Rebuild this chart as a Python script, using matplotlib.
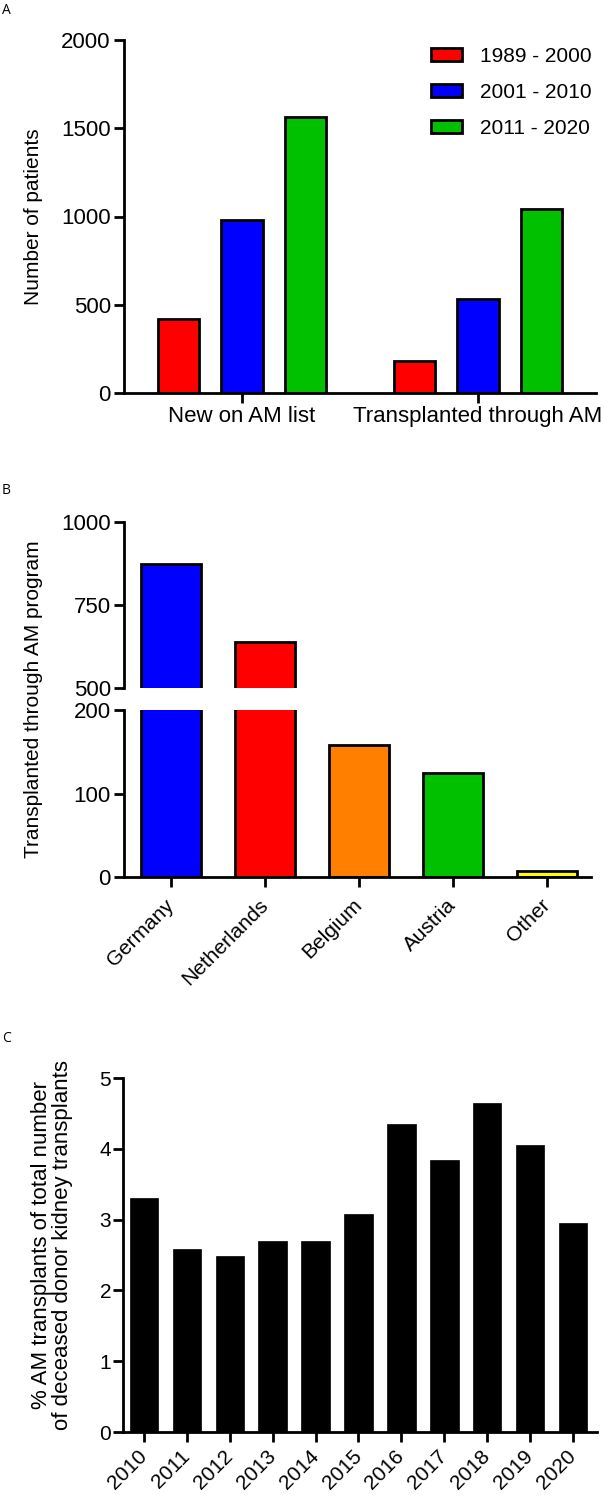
import matplotlib
matplotlib.use("Agg")
import matplotlib.pyplot as plt
from matplotlib.patches import Patch
import numpy as np

# ---- data ----
periods = ["1989 - 2000", "2001 - 2010", "2011 - 2020"]
period_colors = ["#ff0000", "#0000ff", "#00c000"]
groups_a = ["New on AM list", "Transplanted through AM"]
new_on_list = [420, 978, 1563]
transplanted = [180, 530, 1042]

countries = ["Germany", "Netherlands", "Belgium", "Austria", "Other"]
country_counts = [874, 640, 158, 125, 7]
country_colors = ["#0000ff", "#ff0000", "#ff8000", "#00c000", "#ffff00"]

years = ["2010", "2011", "2012", "2013", "2014", "2015",
         "2016", "2017", "2018", "2019", "2020"]
am_pct = [3.30, 2.59, 2.49, 2.70, 2.70, 3.08, 4.35, 3.84, 4.65, 4.05, 2.95]

W, H = 604, 1498
fig = plt.figure(figsize=(W / 100, H / 100), dpi=100)

ARIAL = "Liberation Sans"
OPEN = "Open Sans"
LW = 2.0


def px_axes(left, top, right, bottom):
    return fig.add_axes([left / W, 1 - bottom / H, (right - left) / W, (bottom - top) / H])


def style(ax, size, ypad=2.5):
    for s in ["top", "right"]:
        ax.spines[s].set_visible(False)
    for s in ["left", "bottom"]:
        ax.spines[s].set_linewidth(LW)
    ax.tick_params(width=LW, length=7, labelsize=size, direction="out")
    ax.tick_params(axis="y", pad=ypad)
    for lab in ax.get_xticklabels() + ax.get_yticklabels():
        lab.set_family(ARIAL)


# === Panel A ===
ax = px_axes(124, 40, 596, 393)
x = np.arange(len(groups_a))
offs = [-0.271, 0, 0.271]
for i, col in enumerate(period_colors):
    vals = [new_on_list[i], transplanted[i]]
    ax.bar(x + offs[i], vals, width=0.174, color=col, edgecolor="black", linewidth=LW)
ax.set_xlim(-0.5, 1.5)
ax.set_ylim(0, 2000)
ax.set_yticks([0, 500, 1000, 1500, 2000])
ax.set_xticks(x)
ax.set_xticklabels(groups_a)
style(ax, 16)
ax.tick_params(axis="x", pad=2.5)
fig.text(34 / W, 1 - 217 / H, "Number of patients", rotation=90, family=ARIAL,
         fontsize=15, ha="center", va="center")
handles = [Patch(facecolor=c, edgecolor="black", linewidth=LW) for c in period_colors]
ax.legend(handles, periods, loc="upper right", bbox_to_anchor=(592 / W, 1 - 47 / H),
          bbox_transform=fig.transFigure, frameon=False, borderpad=0, borderaxespad=0,
          prop={"family": ARIAL, "size": 15}, handlelength=1.49, handleheight=0.58,
          handletextpad=0.9, labelspacing=0.82)
fig.text(2 / W, 1 - 3 / H, "A", family=OPEN, fontsize=10, va="top", ha="left")

# === Panel B (broken axis) ===
xb = np.arange(len(countries))
ax_top = px_axes(124, 522, 591, 688)
ax_bot = px_axes(124, 710, 591, 877)
for a in (ax_top, ax_bot):
    a.bar(xb, country_counts, width=0.64, color=country_colors, edgecolor="black", linewidth=LW)
    a.set_xlim(-0.5, 4.47)
ax_top.set_ylim(500, 1000)
ax_top.set_yticks([500, 750, 1000])
ax_bot.set_ylim(0, 200)
ax_bot.set_yticks([0, 100, 200])
style(ax_top, 16)
style(ax_bot, 16)
ax_top.spines["bottom"].set_visible(False)
ax_top.set_xticks([])
ax_bot.set_xticks(xb)
ax_bot.set_xticklabels(countries, rotation=45, ha="right", va="center", rotation_mode="anchor",
                       family=ARIAL, fontsize=15)
ax_bot.tick_params(axis="x", pad=11)
fig.text(34 / W, 1 - 699 / H, "Transplanted through AM program", rotation=90,
         family=ARIAL, fontsize=15, ha="center", va="center")
fig.text(2 / W, 1 - 483 / H, "B", family=OPEN, fontsize=10, va="top", ha="left")

# === Panel C ===
axc = px_axes(123, 1078, 597, 1432)
xc = np.arange(len(years))
axc.bar(xc, am_pct, width=0.665, color="black", edgecolor="black", linewidth=0.5)
axc.set_xlim(-0.49, 10.56)
axc.set_ylim(0, 5)
axc.set_yticks([0, 1, 2, 3, 4, 5])
axc.set_xticks(xc)
axc.set_xticklabels(years, rotation=45, ha="right", va="center", rotation_mode="anchor",
                    family=ARIAL, fontsize=15)
style(axc, 15, ypad=1.5)
axc.tick_params(axis="x", pad=8)
fig.text(52 / W, 1 - 1245 / H,
         "% AM transplants of total number\nof deceased donor kidney transplants",
         rotation=90, family=ARIAL, fontsize=16, ha="center", va="center",
         multialignment="center", linespacing=0.95)
fig.text(2 / W, 1 - 1031 / H, "C", family=OPEN, fontsize=10, va="top", ha="left")

fig.savefig("out.png", dpi=100)
